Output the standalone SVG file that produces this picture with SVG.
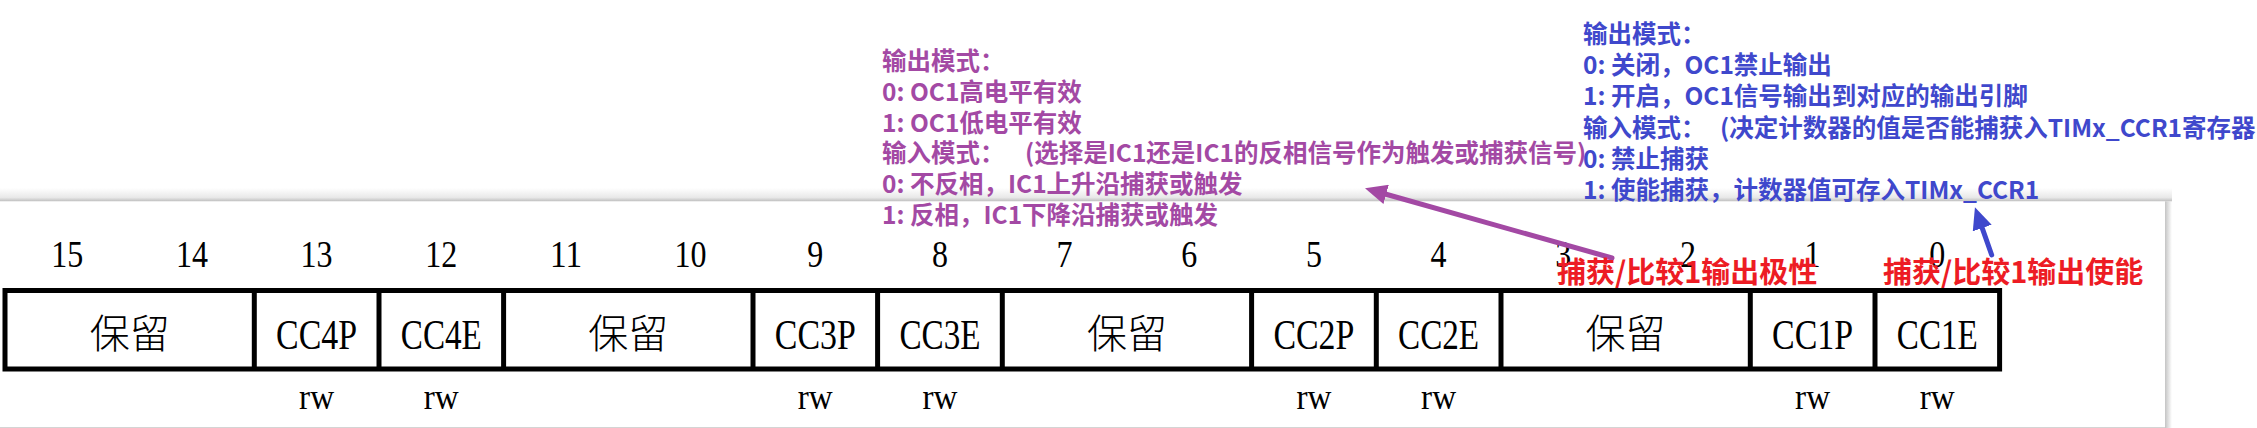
<svg xmlns="http://www.w3.org/2000/svg" width="2257" height="428" viewBox="0 0 2257 428">
<style>
.bit{font-family:"Liberation Serif",serif;font-size:37px;text-anchor:middle;fill:#000}
.fld{font-family:"Liberation Serif",serif;font-size:42px;text-anchor:middle;fill:#000}
.res{font-family:"Noto Sans CJK SC","Noto Sans CJK JP",sans-serif;font-weight:300;font-size:40px;text-anchor:middle;fill:#000}
.rw{font-family:"Liberation Serif",serif;font-size:36px;text-anchor:middle;fill:#000}
.pur{font-family:"Noto Sans CJK SC",sans-serif;font-weight:bold;font-size:24.5px;fill:#A349A4}
.blu{font-family:"Noto Sans CJK SC",sans-serif;font-weight:bold;font-size:24.5px;fill:#3F48CC}
.red{font-family:"Noto Sans CJK SC",sans-serif;font-weight:bold;font-size:29px;fill:#ED1C24}
.cell{fill:none;stroke:#000;stroke-width:5}
.div{stroke:#000;stroke-width:5}
</style>
<defs>
<linearGradient id="topShadow" x1="0" y1="0" x2="0" y2="1">
<stop offset="0" stop-color="#ffffff"/>
<stop offset="0.7" stop-color="#e8e8e8"/>
<stop offset="1" stop-color="#bdbdbd"/>
</linearGradient>
<linearGradient id="sideShadow" x1="0" y1="0" x2="1" y2="0">
<stop offset="0" stop-color="#c4c4c4"/>
<stop offset="1" stop-color="#ffffff"/>
</linearGradient>
<marker id="arrPur" markerUnits="userSpaceOnUse" markerWidth="22" markerHeight="20" refX="1" refY="10" orient="auto">
<path d="M0,0 L22,10 L0,20 z" fill="#A349A4"/>
</marker>
<marker id="arrBlu" markerUnits="userSpaceOnUse" markerWidth="22" markerHeight="20" refX="1" refY="10" orient="auto">
<path d="M0,0 L22,10 L0,20 z" fill="#3F48CC"/>
</marker>
</defs>
<rect x="0" y="0" width="2257" height="428" fill="#ffffff"/>
<g id="panel">
<rect x="0" y="188" width="2172" height="13.5" fill="url(#topShadow)"/>
<rect x="2165" y="201.5" width="7" height="226.5" fill="url(#sideShadow)"/>
<rect x="0" y="201.5" width="2165" height="226.5" fill="#ffffff"/>
<line x1="0" y1="427.5" x2="2165" y2="427.5" stroke="#d4d4d4" stroke-width="1"/>
</g>
<g id="bit-numbers">
<text class="bit" x="67.3" y="266.5" textLength="32" lengthAdjust="spacingAndGlyphs">15</text>
<text class="bit" x="192" y="266.5" textLength="32" lengthAdjust="spacingAndGlyphs">14</text>
<text class="bit" x="316.6" y="266.5" textLength="32" lengthAdjust="spacingAndGlyphs">13</text>
<text class="bit" x="441.3" y="266.5" textLength="32" lengthAdjust="spacingAndGlyphs">12</text>
<text class="bit" x="566" y="266.5" textLength="32" lengthAdjust="spacingAndGlyphs">11</text>
<text class="bit" x="690.6" y="266.5" textLength="32" lengthAdjust="spacingAndGlyphs">10</text>
<text class="bit" x="815.3" y="266.5" textLength="16" lengthAdjust="spacingAndGlyphs">9</text>
<text class="bit" x="940" y="266.5" textLength="16" lengthAdjust="spacingAndGlyphs">8</text>
<text class="bit" x="1064.6" y="266.5" textLength="16" lengthAdjust="spacingAndGlyphs">7</text>
<text class="bit" x="1189.3" y="266.5" textLength="16" lengthAdjust="spacingAndGlyphs">6</text>
<text class="bit" x="1313.9" y="266.5" textLength="16" lengthAdjust="spacingAndGlyphs">5</text>
<text class="bit" x="1438.6" y="266.5" textLength="16" lengthAdjust="spacingAndGlyphs">4</text>
<text class="bit" x="1563.3" y="266.5" textLength="16" lengthAdjust="spacingAndGlyphs">3</text>
<text class="bit" x="1687.9" y="266.5" textLength="16" lengthAdjust="spacingAndGlyphs">2</text>
<text class="bit" x="1812.6" y="266.5" textLength="16" lengthAdjust="spacingAndGlyphs">1</text>
<text class="bit" x="1937.3" y="266.5" textLength="16" lengthAdjust="spacingAndGlyphs">0</text>
</g>
<g id="register">
<rect class="cell" x="5" y="290.5" width="1994.6" height="78.5"/>
<line class="div" x1="254.3" y1="290.5" x2="254.3" y2="369"/>
<line class="div" x1="379" y1="290.5" x2="379" y2="369"/>
<line class="div" x1="503.6" y1="290.5" x2="503.6" y2="369"/>
<line class="div" x1="753" y1="290.5" x2="753" y2="369"/>
<line class="div" x1="877.6" y1="290.5" x2="877.6" y2="369"/>
<line class="div" x1="1002.3" y1="290.5" x2="1002.3" y2="369"/>
<line class="div" x1="1251.6" y1="290.5" x2="1251.6" y2="369"/>
<line class="div" x1="1376.3" y1="290.5" x2="1376.3" y2="369"/>
<line class="div" x1="1501" y1="290.5" x2="1501" y2="369"/>
<line class="div" x1="1750.3" y1="290.5" x2="1750.3" y2="369"/>
<line class="div" x1="1875" y1="290.5" x2="1875" y2="369"/>
</g>
<g id="field-res15-14"><text class="res" x="129.7" y="348">保留</text></g>
<g id="field-CC4P"><text class="fld" x="316.6" y="348.5" textLength="81" lengthAdjust="spacingAndGlyphs">CC4P</text><text class="rw" x="316.6" y="408.5" textLength="35" lengthAdjust="spacingAndGlyphs">rw</text></g>
<g id="field-CC4E"><text class="fld" x="441.3" y="348.5" textLength="81" lengthAdjust="spacingAndGlyphs">CC4E</text><text class="rw" x="441.3" y="408.5" textLength="35" lengthAdjust="spacingAndGlyphs">rw</text></g>
<g id="field-res11-10"><text class="res" x="628.3" y="348">保留</text></g>
<g id="field-CC3P"><text class="fld" x="815.3" y="348.5" textLength="81" lengthAdjust="spacingAndGlyphs">CC3P</text><text class="rw" x="815.3" y="408.5" textLength="35" lengthAdjust="spacingAndGlyphs">rw</text></g>
<g id="field-CC3E"><text class="fld" x="940" y="348.5" textLength="81" lengthAdjust="spacingAndGlyphs">CC3E</text><text class="rw" x="940" y="408.5" textLength="35" lengthAdjust="spacingAndGlyphs">rw</text></g>
<g id="field-res7-6"><text class="res" x="1127" y="348">保留</text></g>
<g id="field-CC2P"><text class="fld" x="1313.9" y="348.5" textLength="81" lengthAdjust="spacingAndGlyphs">CC2P</text><text class="rw" x="1313.9" y="408.5" textLength="35" lengthAdjust="spacingAndGlyphs">rw</text></g>
<g id="field-CC2E"><text class="fld" x="1438.6" y="348.5" textLength="81" lengthAdjust="spacingAndGlyphs">CC2E</text><text class="rw" x="1438.6" y="408.5" textLength="35" lengthAdjust="spacingAndGlyphs">rw</text></g>
<g id="field-res3-2"><text class="res" x="1625.6" y="348">保留</text></g>
<g id="field-CC1P"><text class="fld" x="1812.6" y="348.5" textLength="81" lengthAdjust="spacingAndGlyphs">CC1P</text><text class="rw" x="1812.6" y="408.5" textLength="35" lengthAdjust="spacingAndGlyphs">rw</text></g>
<g id="field-CC1E"><text class="fld" x="1937.3" y="348.5" textLength="81" lengthAdjust="spacingAndGlyphs">CC1E</text><text class="rw" x="1937.3" y="408.5" textLength="35" lengthAdjust="spacingAndGlyphs">rw</text></g>
<g id="note-polarity">
<text class="pur" x="882" y="70">输出模式：</text>
<text class="pur" x="882" y="100.8">0: OC1高电平有效</text>
<text class="pur" x="882" y="131.6">1: OC1低电平有效</text>
<text class="pur" x="882" y="162.4">输入模式：<tspan x="1025">(选择是IC1还是IC1的反相信号作为触发或捕获信号)</tspan></text>
<text class="pur" x="882" y="193.2">0: 不反相，IC1上升沿捕获或触发</text>
<text class="pur" x="882" y="224">1: 反相，IC1下降沿捕获或触发</text>
</g>
<g id="note-enable">
<text class="blu" x="1583" y="43">输出模式：</text>
<text class="blu" x="1583" y="74.2">0: 关闭，OC1禁止输出</text>
<text class="blu" x="1583" y="105.4">1: 开启，OC1信号输出到对应的输出引脚</text>
<text class="blu" x="1583" y="136.6">输入模式：<tspan x="1720">(决定计数器的值是否能捕获入TIMx_CCR1寄存器</tspan></text>
<text class="blu" x="1583" y="167.8">0: 禁止捕获</text>
<text class="blu" x="1583" y="199">1: 使能捕获，计数器值可存入TIMx_CCR1</text>
</g>
<g id="connectors">
<line x1="1612" y1="258" x2="1385.2" y2="194" stroke="#A349A4" stroke-width="5" stroke-linecap="round" marker-end="url(#arrPur)"/>
<line x1="1991.7" y1="255" x2="1981.9" y2="227.1" stroke="#3F48CC" stroke-width="5" stroke-linecap="round" marker-end="url(#arrBlu)"/>
</g>
<g id="label-polarity"><text class="red" x="1557" y="283">捕获/比较1输出极性</text></g>
<g id="label-enable"><text class="red" x="1883" y="283">捕获/比较1输出使能</text></g>
</svg>
